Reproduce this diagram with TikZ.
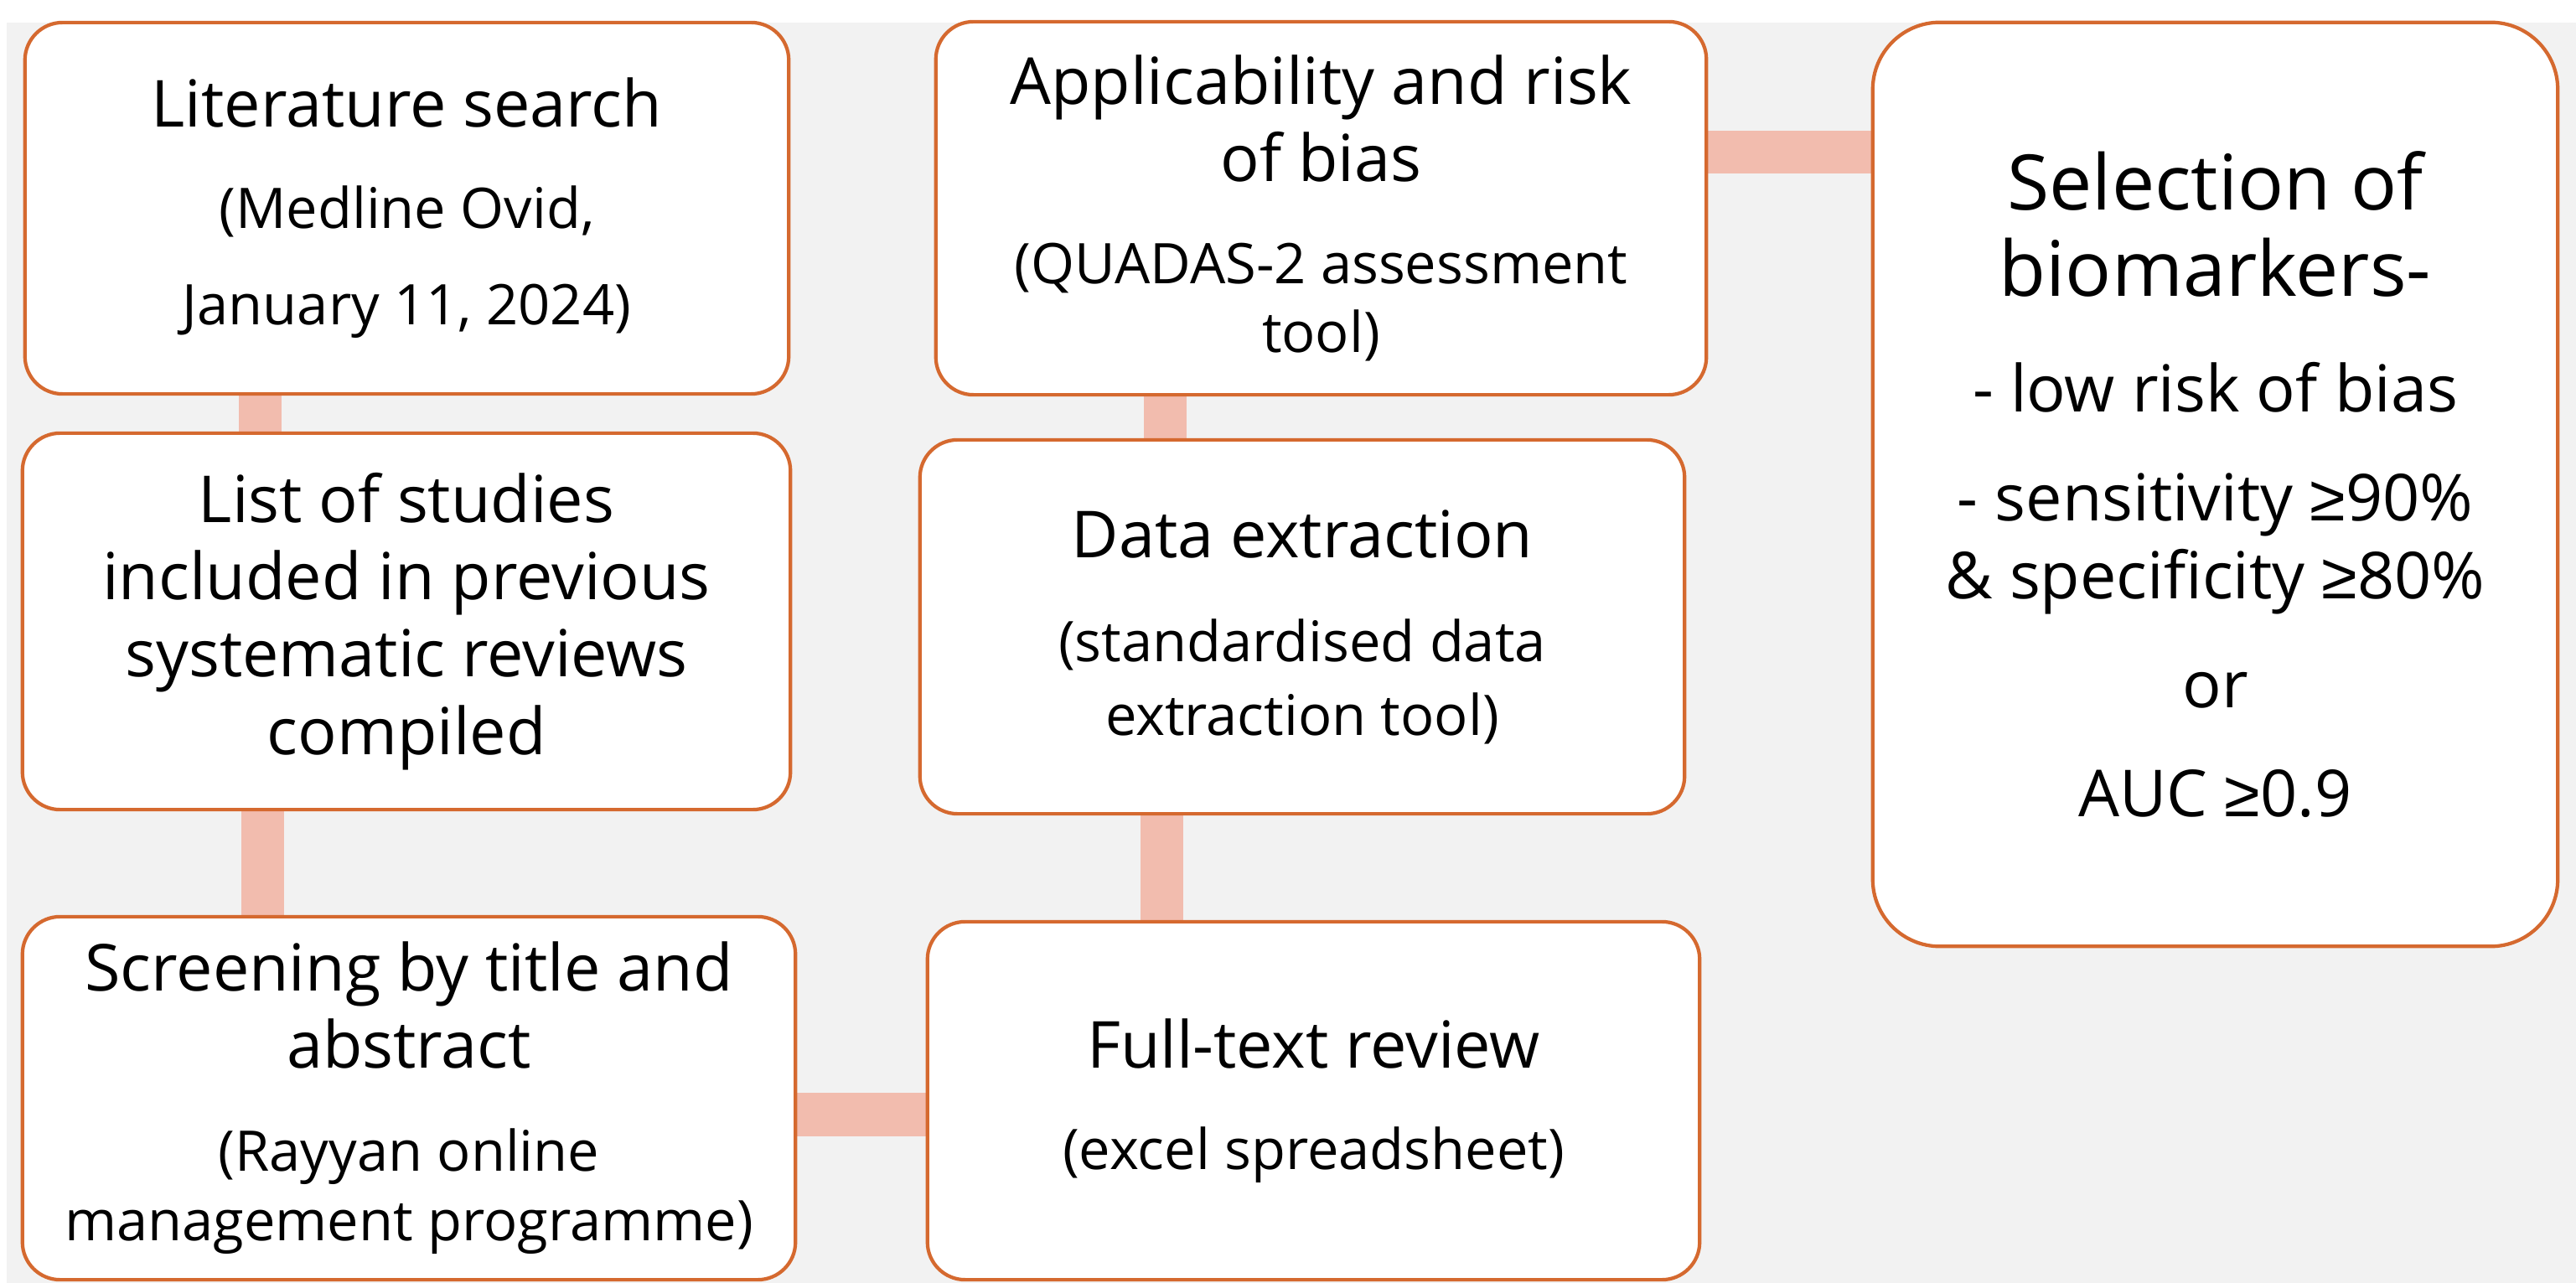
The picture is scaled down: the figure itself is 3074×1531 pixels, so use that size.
\documentclass[tikz,border=0pt]{standalone}
\usepackage{fontspec}
\setmainfont{Open Sans}
\newfontfamily\symfont{Liberation Sans}
\usepackage{xcolor}
\definecolor{edge}{HTML}{D5692F}
\definecolor{linkc}{HTML}{F2BCAE}
\definecolor{canvas}{HTML}{F2F2F2}
\usepackage{tikz}
\usetikzlibrary{positioning,backgrounds}
\newcommand{\paren}[1]{{\fontsize{19}{23}\selectfont #1}}
\newcommand{\headline}[1]{{\fontsize{26}{30}\selectfont #1}}
\newcommand{\gesym}{{\symfont ≥}}

\begin{document}
\begin{tikzpicture}[x=0.01cm,y=-0.01cm,
  box/.style={draw=edge,fill=white,line width=1.2pt,rounded corners=0.45cm,align=center,inner sep=0pt,
    font=\fontsize{22}{26.2}\selectfont},
  bigbox/.style={box,rounded corners=0.8cm},
  link/.style={draw=linkc,line width=0.51cm}]
\useasboundingbox (0,0) rectangle (3074,1531);
% left column
\node[box,minimum width=9.11cm,minimum height=4.43cm] (lit) at (485.5,248.5) {Literature search\\[8.2pt]\paren{(Medline Ovid,}\\[6.5pt]\paren{January 11, 2024)}};
\node[box,minimum width=9.16cm,minimum height=4.49cm] (list) at (485,741.5) {List of studies\\included in previous\\systematic reviews\\compiled};
\node[box,minimum width=9.22cm,minimum height=4.33cm] (screen) at (488,1310.5) {Screening by title and\\abstract\\[8.8pt]\paren{(Rayyan online}\\[-2.6pt]\paren{management programme)}};
% middle column
\node[box,minimum width=9.21cm,minimum height=4.27cm] (full) at (1567.5,1313.5) {Full-text review\\[8.2pt]\paren{(excel spreadsheet)}};
\node[box,minimum width=9.12cm,minimum height=4.46cm] (extract) at (1554,748) {Data extraction\\[9.1pt]\paren{(standardised data}\\[-1.2pt]\paren{extraction tool)}};
\node[box,minimum width=9.19cm,minimum height=4.45cm] (bias) at (1576.5,248.5) {Applicability and risk\\of bias\\[8.5pt]\paren{(QUADAS-2 assessment}\\[-2.9pt]\paren{tool)}};
% result
\node[bigbox,minimum width=8.17cm,minimum height=11.02cm] (select) at (2643.5,578) {\headline{Selection of}\\[3.1pt]\headline{biomarkers-}\\[13.1pt]- low risk of bias\\[10.8pt]- sensitivity \gesym90\%\\\& specificity \gesym80\%\\[10.8pt]or\\[10.8pt]AUC \gesym0.9};
\begin{scope}[on background layer]
\fill[canvas] (8,27) rectangle (3074,1531);
\draw[link] ([xshift=-1.75cm]lit.south) -- ([xshift=-1.75cm]lit.south |- list.north);
\draw[link] ([xshift=-1.71cm]list.south) -- ([xshift=-1.71cm]list.south |- screen.north);
\draw[link] ([yshift=-0.195cm]screen.east) -- ([yshift=-0.195cm]screen.east -| full.west);
\draw[link] ([xshift=-1.67cm]extract.south) -- ([xshift=-1.67cm]extract.south |- full.north);
\draw[link] ([xshift=-1.855cm]bias.south) -- ([xshift=-1.855cm]bias.south |- extract.north);
\draw[link] ([yshift=0.665cm]bias.east) -- ([yshift=0.665cm]bias.east -| select.west);
\end{scope}
\end{tikzpicture}
\end{document}
